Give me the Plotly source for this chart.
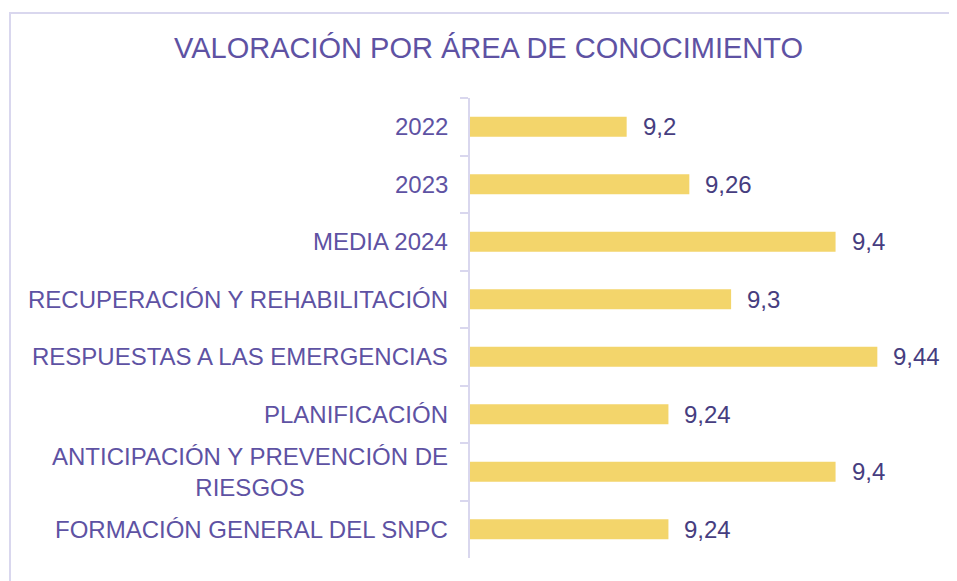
import plotly.graph_objects as go

categories = [
    "2022",
    "2023",
    "MEDIA 2024",
    "RECUPERACIÓN Y REHABILITACIÓN",
    "RESPUESTAS A LAS EMERGENCIAS",
    "PLANIFICACIÓN",
    "ANTICIPACIÓN Y PREVENCIÓN DE<br>RIESGOS",
    "FORMACIÓN GENERAL DEL SNPC",
]
values = [9.2, 9.26, 9.4, 9.3, 9.44, 9.24, 9.4, 9.24]
value_labels = [f"{v:g}".replace(".", ",") for v in values]

title_text = "VALORACIÓN POR ÁREA DE CONOCIMIENTO"

BAR_COLOR = "#f3d56b"
CAT_COLOR = "#5e52a3"
VAL_COLOR = "#463d80"
AXIS_COLOR = "#d9d7ee"
FONT = "Liberation Sans, Arial, sans-serif"

# the page body has an 8px margin; the figure is sized to fill the window exactly
OFF = 8
W, H = 957 - OFF, 581 - OFF
L = 470 - OFF
T = 98 - OFF
R = W - (940 - OFF)
B = H - (558 - OFF)

fig = go.Figure()
fig.add_trace(go.Bar(
    x=values,
    y=categories,
    orientation="h",
    marker=dict(color=BAR_COLOR, line=dict(width=0)),
    hoverinfo="x+y",
))

annotations = []
for i, c in enumerate(categories):
    annotations.append(dict(
        x=0, xref="paper", y=i, yref="y",
        xanchor="right", yanchor="middle", align="center",
        xshift=-20, text=c, showarrow=False,
        font=dict(family=FONT, size=24, color=CAT_COLOR),
    ))
for i, (v, t) in enumerate(zip(values, value_labels)):
    annotations.append(dict(
        x=v, xref="x", y=i, yref="y",
        xanchor="left", yanchor="middle",
        xshift=14, text=t, showarrow=False,
        font=dict(family=FONT, size=24, color=VAL_COLOR),
    ))

pw = W - L - R
ph = H - T - B
n = len(categories)

# frame: only the top and left edges fall inside the window
fx0 = (10 - OFF - L) / pw
fx1 = (W + 20 - L) / pw
fy0 = -(B + 20) / ph
fy1 = (H - B - (13 - OFF)) / ph

fig.update_layout(
    width=W, height=H,
    margin=dict(l=L, r=R, t=T, b=B, pad=0, autoexpand=False),
    paper_bgcolor="white", plot_bgcolor="white",
    bargap=0.65,
    showlegend=False,
    title=dict(
        text=title_text, x=(488.5 - OFF) / W, xanchor="center",
        y=1 - (48 - OFF) / H, yanchor="middle", yref="container",
        font=dict(family=FONT, size=29, color=CAT_COLOR),
    ),
    xaxis=dict(range=[9.05, 9.5], visible=False, fixedrange=True),
    yaxis=dict(
        type="category", categoryorder="array", categoryarray=categories,
        range=[n - 0.5, -0.5], autorange=False,
        showline=True, linecolor=AXIS_COLOR, linewidth=2,
        ticks="outside", tickson="boundaries", ticklen=8,
        tickcolor=AXIS_COLOR, tickwidth=2,
        showticklabels=False, showgrid=False, zeroline=False,
        fixedrange=True,
    ),
    annotations=annotations,
    shapes=[dict(
        type="path", xref="paper", yref="paper",
        path=f"M {fx0},{fy0} L {fx0},{fy1} L {fx1},{fy1}",
        line=dict(color=AXIS_COLOR, width=2),
        layer="below",
    )],
)

fig.write_html(
    "out.html",
    post_script="document.documentElement.style.overflow='hidden';"
                "document.body.style.overflow='hidden';",
)
